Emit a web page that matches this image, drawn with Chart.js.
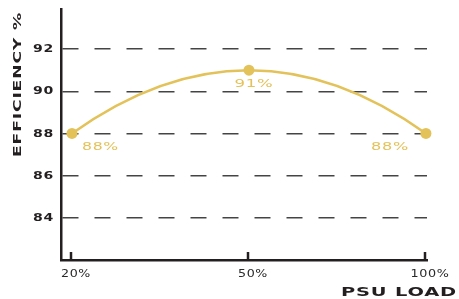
<!DOCTYPE html>
<html><head><meta charset="utf-8">
<style>html,body{margin:0;padding:0;background:#fff;}#wrap{width:459px;height:299px;}</style>
<script src="https://cdn.jsdelivr.net/npm/chart.js@4"></script>
</head><body><div id="wrap"><canvas id="c" width="459" height="299"></canvas></div>
<script>
const categories = ['20%', '50%', '100%'];
const efficiency = [88, 91, 88];
const yTickValues = [84, 86, 88, 90, 92];
const pointLabels = ['88%', '91%', '88%'];
const yAxisTitle = 'EFFICIENCY %';
const xAxisTitle = 'PSU LOAD';

const GOLD = '#E3C25A';
const INK = '#231F20';

// draws text horizontally stretched to a given width (emulates an extended typeface)
function wideText(ctx, text, x, y, width, align) {
  ctx.letterSpacing = '0.5px';
  const w = ctx.measureText(text).width;
  const sx = width / w;
  let left = x;
  if (align === 'right') left = x - width;
  else if (align === 'center') left = x - width / 2;
  ctx.save();
  ctx.translate(left, y);
  ctx.scale(sx, 1);
  ctx.textAlign = 'left';
  ctx.fillText(text, 0, 0);
  ctx.restore();
}

// quadratic (Lagrange) slope through three pixel points, evaluated at x
function quadSlope(p0, p1, p2, x) {
  return p0.y * ((x - p1.x) + (x - p2.x)) / ((p0.x - p1.x) * (p0.x - p2.x)) +
         p1.y * ((x - p0.x) + (x - p2.x)) / ((p1.x - p0.x) * (p1.x - p2.x)) +
         p2.y * ((x - p0.x) + (x - p1.x)) / ((p2.x - p0.x) * (p2.x - p1.x));
}

const decor = {
  id: 'decor',
  beforeDatasetsDraw(chart) {
    const meta = chart.getDatasetMeta(0);
    const line = meta.dataset;
    line.updateControlPoints(chart.chartArea, 'x');
    const pts = meta.data;
    const n = pts.length;
    if (n < 3) return;
    pts.forEach((p, i) => {
      const a = Math.min(Math.max(i - 1, 0), n - 3);
      const m = quadSlope(pts[a], pts[a + 1], pts[a + 2], p.x);
      if (i > 0) {
        const d = (p.x - pts[i - 1].x) / 3;
        p.cp1x = p.x - d; p.cp1y = p.y - m * d;
      }
      if (i < n - 1) {
        const d = (pts[i + 1].x - p.x) / 3;
        p.cp2x = p.x + d; p.cp2y = p.y + m * d;
      }
    });
    delete line._path;
  },
  afterDraw(chart) {
    const ctx = chart.ctx;
    const xs = chart.scales.x, ys = chart.scales.y;
    ctx.save();
    // short upward tick marks on the x axis
    ctx.strokeStyle = INK; ctx.lineWidth = 2.5;
    xs.ticks.forEach(t => {
      const px = Math.round(xs.getPixelForValue(t.value)) - 1;
      ctx.beginPath(); ctx.moveTo(px, ys.bottom); ctx.lineTo(px, ys.bottom - 8); ctx.stroke();
    });
    ctx.textBaseline = 'middle';
    // y tick labels
    ctx.fillStyle = INK;
    ctx.font = 'bold 10px "DejaVu Sans"';
    ys.ticks.forEach(t => {
      const py = ys.getPixelForValue(t.value);
      const s = String(t.value);
      wideText(ctx, s, 54, py + 0.5, 10.5 * s.length, 'right');
    });
    // x tick labels
    ctx.fillStyle = '#2a2a2a';
    ctx.font = '10px "DejaVu Sans"';
    xs.ticks.forEach(t => {
      const px = xs.getPixelForValue(t.value);
      const s = categories[t.value];
      wideText(ctx, s, px + 4, 274, s.length === 3 ? 30 : 39, 'center');
    });
    // point value labels
    ctx.fillStyle = GOLD;
    ctx.font = '11px "DejaVu Sans"';
    const meta = chart.getDatasetMeta(0);
    const last = meta.data.length - 1;
    meta.data.forEach((pt, i) => {
      if (i === 0) wideText(ctx, pointLabels[i], pt.x + 10, pt.y + 13.5, 37, 'left');
      else if (i === last) wideText(ctx, pointLabels[i], pt.x - 17, pt.y + 13.5, 38, 'right');
      else wideText(ctx, pointLabels[i], pt.x + 5, pt.y + 14, 39, 'center');
    });
    // axis titles
    ctx.fillStyle = INK;
    ctx.font = 'bold 11px "DejaVu Sans"';
    ctx.save();
    ctx.translate(18.5, 157);
    ctx.rotate(-Math.PI / 2);
    wideText(ctx, yAxisTitle, 0, 0, 145, 'left');
    ctx.restore();
    ctx.font = 'bold 12px "DejaVu Sans"';
    wideText(ctx, xAxisTitle, 457, 293, 116, 'right');
    ctx.restore();
  }
};

new Chart(document.getElementById('c'), {
  type: 'line',
  data: {
    datasets: [{
      data: efficiency.map((v, i) => ({ x: i, y: v })),
      borderColor: GOLD,
      backgroundColor: GOLD,
      borderWidth: 2.5,
      pointRadius: 5.5,
      pointHoverRadius: 5.5,
      pointBorderWidth: 0,
      pointBackgroundColor: GOLD,
      tension: 0.4,
      clip: false,
      fill: false
    }]
  },
  options: {
    responsive: false,
    devicePixelRatio: 1,
    animation: false,
    events: [],
    layout: { padding: { left: 0, top: 9, right: 32, bottom: 0 } },
    plugins: { legend: { display: false }, tooltip: { enabled: false } },
    scales: {
      x: {
        type: 'linear',
        min: -0.062,
        max: 2.006,
        afterBuildTicks: s => { s.ticks = categories.map((c, i) => ({ value: i })); },
        afterFit: s => { s.height = 39; },
        grid: { display: false, drawTicks: false },
        border: { display: true, color: INK, width: 2.5 },
        ticks: { display: false }
      },
      y: {
        min: 82,
        max: 93.9,
        afterBuildTicks: s => { s.ticks = yTickValues.map(v => ({ value: v })); },
        afterFit: s => { s.width = 61; },
        grid: { color: '#444', lineWidth: 1.5, drawTicks: false },
        border: { display: true, color: INK, width: 2.5, dash: [16, 16] },
        ticks: { display: false }
      }
    }
  },
  plugins: [decor]
});
</script>
</body></html>
